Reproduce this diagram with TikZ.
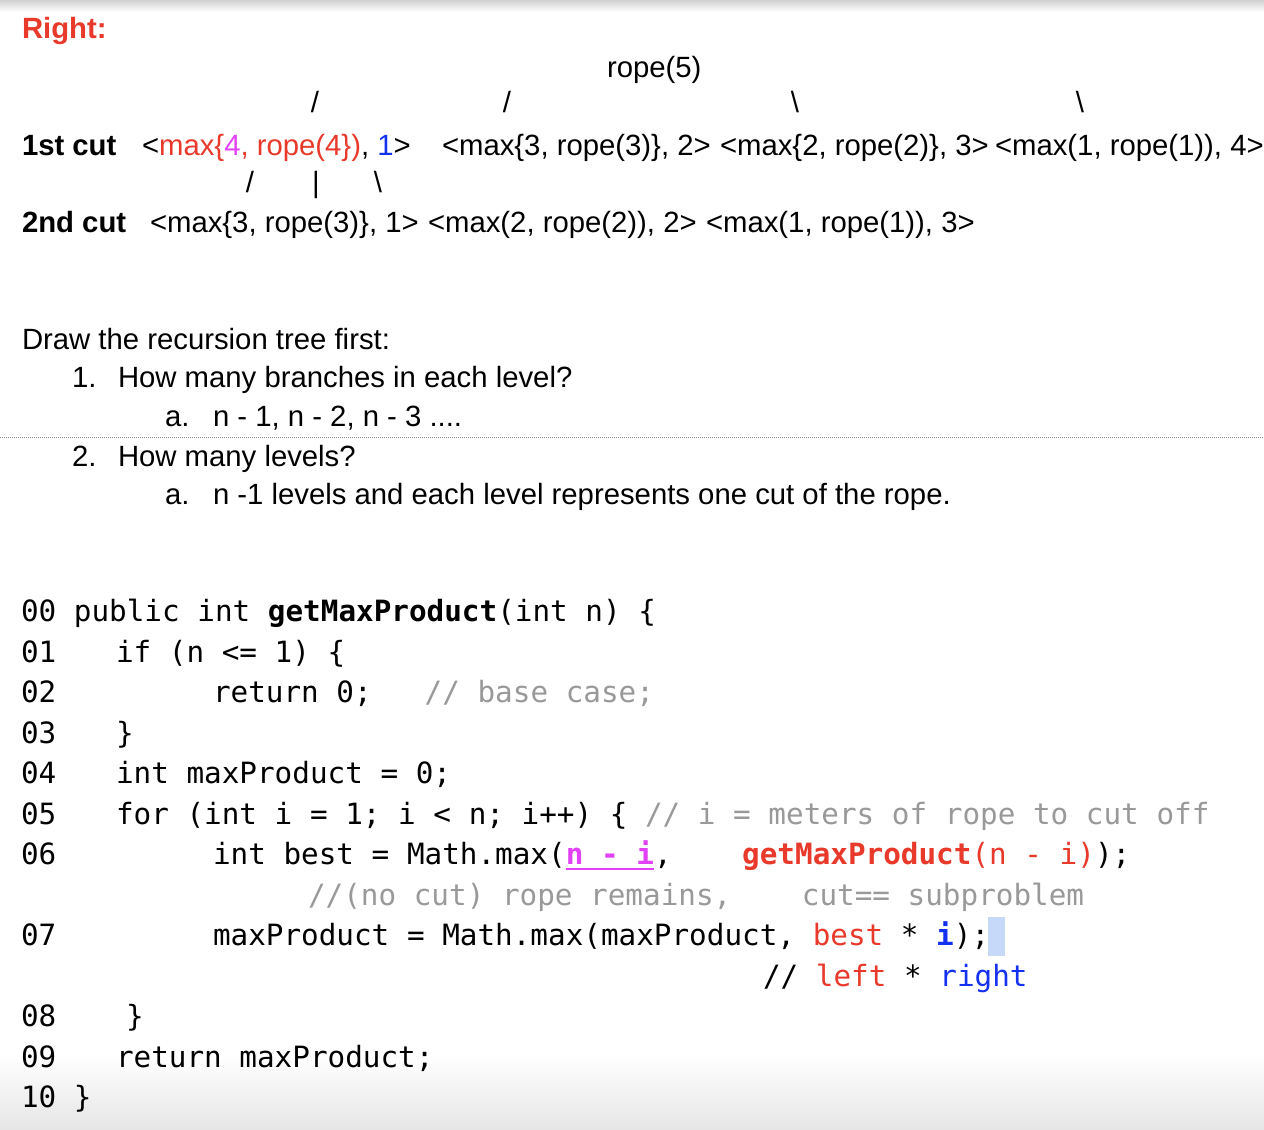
\documentclass[tikz,border=0pt]{standalone}
\usepackage{fontspec}
\setmainfont{Liberation Sans}
\newfontfamily\ropecode{DejaVu Sans Mono}
\newcommand\sansbig{\fontsize{29.3}{35}\selectfont}
\newcommand\codebig{\ropecode\fontsize{29.3}{35}\selectfont}
\definecolor{ropered}{HTML}{E8392B}
\definecolor{ropemag}{HTML}{E242F5}
\definecolor{ropeblue}{HTML}{1430F0}
\definecolor{ropegray}{HTML}{999999}
\definecolor{ropehl}{HTML}{C6D9F8}
\frenchspacing
\begin{document}
\begin{tikzpicture}[x=1pt,y=-1pt,
  txt/.style={font=\sansbig, anchor=base west, inner sep=0pt, outer sep=0pt},
  txtb/.style={font=\sansbig\bfseries, anchor=base west, inner sep=0pt, outer sep=0pt},
  slash/.style={font=\sansbig, anchor=base, inner sep=0pt, outer sep=0pt},
  code/.style={font=\codebig, anchor=base west, inner sep=0pt, outer sep=0pt},
  cmt/.style={code, text=ropegray}]
\useasboundingbox (0,0) rectangle (1264,1130);
\fill[white] (0,0) rectangle (1264,1130);
% screenshot shadows
\shade[top color=black!18, bottom color=white] (0,0) rectangle (1264,12);
\shade[top color=white, bottom color=black!10] (0,1055) rectangle (1264,1130);

% header
\node[txtb, text=ropered] (right) at (22,38) {Right:};
\node[txt] (root) at (607,77) {rope(5)};
\node[slash] (s1) at (315,112) {/};
\node[slash] (s2) at (507,112) {/};
\node[slash] (s3) at (795,112) {\textbackslash};
\node[slash] (s4) at (1080,112) {\textbackslash};

\node[txtb] (cut1) at (22,155) {1st cut};
\node[txt] (a1) at (142,155) {<\textcolor{ropered}{max\{}\textcolor{ropemag}{4}\textcolor{ropered}{, rope(4\})}, \textcolor{ropeblue}{1}>};
\node[txt] (a2) at (442,155) {<max\{3, rope(3)\}, 2>};
\node[txt] (a3) at (720,155) {<max\{2, rope(2)\}, 3>};
\node[txt] (a4) at (995,155) {<max(1, rope(1)), 4>};

\node[slash] (t1) at (250,192) {/};
\node[slash] (t2) at (316,192) {|};
\node[slash] (t3) at (378,192) {\textbackslash};

\node[txtb] (cut2) at (22,232) {2nd cut};
\node[txt] (b1) at (150,232) {<max\{3, rope(3)\}, 1>};
\node[txt] (b2) at (428,232) {<max(2, rope(2)), 2>};
\node[txt] (b3) at (706,232) {<max(1, rope(1)), 3>};

% questions
\node[txt] (q0) at (22,349) {Draw the recursion tree first:};
\node[txt] (q1n) at (72,387) {1.};
\node[txt] (q1) at (118,387) {How many branches in each level?};
\node[txt] (q1an) at (165,426) {a.};
\node[txt] (q1a) at (213,426) {n - 1, n - 2, n - 3 ....};
\draw[black!45, line width=1pt, dash pattern=on 1pt off 1pt] (0,437.5) -- (1264,437.5);
\node[txt] (q2n) at (72,466) {2.};
\node[txt] (q2) at (118,466) {How many levels?};
\node[txt] (q2an) at (165,504) {a.};
\node[txt] (q2a) at (213,504) {n -1 levels and each level represents one cut of the rope.};

% code
\fill[ropehl] (988,917) rectangle (1005,956);
\node[code] (n00) at (21,621) {00 public int {\bfseries getMaxProduct}(int n) \{};
\node[code] (n01) at (21,662) {01};
\node[code] (l01) at (116,662) {if (n <= 1) \{};
\node[code] (n02) at (21,702) {02};
\node[code] (l02) at (213,702) {return 0;~~~\textcolor{ropegray}{// base case;}};
\node[code] (n03) at (21,743) {03};
\node[code] (l03) at (116,743) {\}};
\node[code] (n04) at (21,783) {04};
\node[code] (l04) at (116,783) {int maxProduct = 0;};
\node[code] (n05) at (21,824) {05};
\node[code] (l05) at (116,824) {for (int i = 1; i < n; i++) \{};
\node[cmt] (c05) at (645,824) {// i = meters of rope to cut off};
\node[code] (n06) at (21,864) {06};
\node[code] (l06a) at (213,864) {int best = Math.max(};
\node[code, anchor=base west, text=ropemag] (ni) at (l06a.base east) {\bfseries n - i};
\node[code, anchor=base west] (l06b) at (ni.base east) {,~~~~\textcolor{ropered}{{\bfseries getMaxProduct}(n - i)});};
\draw[ropemag, line width=2.6pt] ([yshift=-5pt]ni.base west) -- ([yshift=-5pt]ni.base east);
\node[cmt] (c06) at (308,905) {//(no cut) rope remains,~~~~cut== subproblem};
\node[code] (n07) at (21,945) {07};
\node[code] (l07) at (213,945) {maxProduct = Math.max(maxProduct, \textcolor{ropered}{best} * \textcolor{ropeblue}{\bfseries i});};
\node[code] (c07) at (763,986) {// \textcolor{ropered}{left} * \textcolor{ropeblue}{right}};
\node[code] (n08) at (21,1026) {08};
\node[code] (l08) at (126,1026) {\}};
\node[code] (n09) at (21,1067) {09};
\node[code] (l09) at (116,1067) {return maxProduct;};
\node[code] (n10) at (21,1107) {10 \}};
\end{tikzpicture}
\end{document}
